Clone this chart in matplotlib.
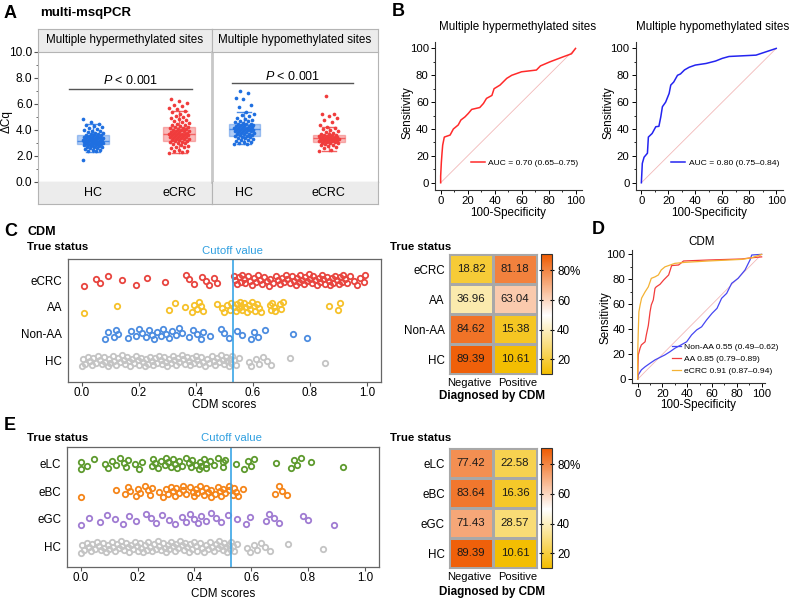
import numpy as np
import matplotlib
matplotlib.use("Agg")
import matplotlib.pyplot as plt
from matplotlib.colors import LinearSegmentedColormap

plt.rcParams['font.family'] = ['Liberation Sans', 'DejaVu Sans']
plt.rcParams['mathtext.fontset'] = 'custom'
plt.rcParams['mathtext.it'] = 'Liberation Sans:italic'
plt.rcParams['mathtext.rm'] = 'Liberation Sans'

# ---------------- data ----------------
# A: delta Cq per group (points) and box stats (whislo, q1, med, q3, whishi)
hyper_hc = [1.72, 2.38, 2.42, 2.48, 2.5, 2.55, 2.6, 2.62, 2.67, 2.7, 2.73, 2.75, 2.8, 2.81, 2.85, 2.86,
            2.9, 2.91, 2.93, 2.95, 2.96, 3.0, 3.01, 3.03, 3.05, 3.06, 3.08, 3.1, 3.12, 3.13, 3.15, 3.17,
            3.18, 3.2, 3.21, 3.24, 3.25, 3.27, 3.3, 3.32, 3.35, 3.36, 3.38, 3.4, 3.43, 3.45, 3.48, 3.5,
            3.53, 3.56, 3.58, 3.6, 3.64, 3.68, 3.72, 3.77, 3.8, 3.86, 3.9, 3.96, 4.02, 4.1, 4.18, 4.26,
            4.32, 4.4, 4.48, 4.6, 4.82]
hyper_ecrc = [2.25, 2.3, 2.36, 2.42, 2.5, 2.58, 2.66, 2.72, 2.8, 2.86, 2.92, 2.98, 3.02, 3.06, 3.1,
              3.14, 3.18, 3.2, 3.24, 3.28, 3.3, 3.33, 3.37, 3.4, 3.43, 3.46, 3.5, 3.52, 3.55, 3.58, 3.6,
              3.63, 3.66, 3.68, 3.7, 3.73, 3.76, 3.8, 3.83, 3.86, 3.9, 3.93, 3.96, 4.0, 4.03, 4.07, 4.1,
              4.14, 4.18, 4.2, 4.25, 4.3, 4.36, 4.42, 4.5, 4.56, 4.62, 4.7, 4.78, 4.85, 4.92, 5.0, 5.08,
              5.15, 5.25, 5.35, 5.45, 5.6, 5.72, 5.85, 5.95, 6.1, 6.2, 6.4]
hypo_hc = [2.92, 2.96, 3.0, 3.05, 3.1, 3.15, 3.2, 3.25, 3.3, 3.35, 3.4, 3.45, 3.5, 3.53, 3.56, 3.6,
           3.63, 3.66, 3.7, 3.73, 3.76, 3.8, 3.83, 3.86, 3.9, 3.92, 3.95, 3.98, 4.0, 4.03, 4.06, 4.08,
           4.1, 4.13, 4.16, 4.19, 4.22, 4.25, 4.28, 4.31, 4.34, 4.37, 4.4, 4.43, 4.46, 4.5, 4.55, 4.6,
           4.66, 4.72, 4.8, 4.88, 4.95, 5.05, 5.15, 5.25, 5.35, 5.8, 5.9, 6.35, 6.45, 6.88, 7.0]
hypo_ecrc = [2.42, 2.5, 2.6, 2.68, 2.75, 2.82, 2.88, 2.93, 2.97, 3.0, 3.03, 3.06, 3.09, 3.12, 3.14,
             3.16, 3.18, 3.2, 3.22, 3.24, 3.26, 3.28, 3.3, 3.32, 3.34, 3.36, 3.38, 3.4, 3.42, 3.44, 3.46,
             3.48, 3.5, 3.52, 3.55, 3.58, 3.6, 3.63, 3.67, 3.72, 3.78, 3.85, 3.92, 4.0, 4.08, 4.15, 4.2,
             4.42, 4.6, 4.8, 4.95, 5.1, 5.2, 5.25, 6.6]
box_hyper = [(2.33, 2.92, 3.18, 3.6, 4.5), (2.25, 3.18, 3.67, 4.2, 5.46)]
box_hypo = [(2.92, 3.56, 4.08, 4.46, 5.36), (2.4, 3.1, 3.36, 3.6, 4.2)]

# B: ROC curves (100-specificity, sensitivity)
roc_hyper_x = [0, 0, 0.5, 1, 1.5, 2.7, 7, 9.4, 13, 15, 18, 20.5, 23, 29, 31.7, 34, 38, 39.6, 44, 49,
               52.7, 60, 71, 74, 81, 91, 97, 100]
roc_hyper_y = [0, 5, 15, 22, 28, 34, 35.5, 40, 43, 46.7, 49, 51.6, 54.6, 56, 59, 62.8, 65, 70, 72.7,
               77.7, 80, 82.6, 83.9, 87, 90, 93.8, 96, 100]
roc_hypo_x = [0, 0.7, 2, 4.5, 5.2, 8, 10.7, 13, 14.4, 15.6, 18, 20.6, 21.8, 24, 26.8, 29, 32, 35.5, 40,
              48, 55, 60, 65, 85, 92.5, 100]
roc_hypo_y = [0, 14.4, 19, 22, 34, 36.7, 41.7, 42, 49, 56.6, 60, 66.5, 72.7, 75, 80, 81, 84, 86, 87.6,
              88.8, 90.6, 92.6, 94, 95, 97.5, 100]

# C: CDM scores per true status
cdm_ecrc = [0.006, 0.049, 0.064, 0.09, 0.139, 0.189, 0.23, 0.29, 0.364, 0.375, 0.395, 0.42, 0.435,
            0.445, 0.462, 0.475,
            0.535, 0.538, 0.545, 0.55, 0.557, 0.563, 0.57, 0.574, 0.582, 0.59, 0.597, 0.603, 0.61, 0.617,
            0.625, 0.632, 0.64, 0.65, 0.656, 0.662, 0.67, 0.68, 0.688, 0.697, 0.703, 0.709, 0.715, 0.72,
            0.73, 0.738, 0.745, 0.75, 0.756, 0.761, 0.767, 0.773, 0.778, 0.784, 0.79, 0.796, 0.802, 0.808,
            0.813, 0.819, 0.825, 0.831, 0.837, 0.843, 0.848, 0.854, 0.86, 0.866, 0.872, 0.878, 0.883,
            0.889, 0.895, 0.901, 0.907, 0.912, 0.918, 0.925, 0.93, 0.942, 0.954, 0.965, 0.977, 0.989, 0.995]
cdm_aa = [0.008, 0.123, 0.306, 0.326, 0.362, 0.388, 0.395, 0.405, 0.411, 0.418, 0.425, 0.473, 0.49,
          0.5, 0.51, 0.52, 0.525,
          0.535, 0.54, 0.545, 0.551, 0.555, 0.559, 0.563, 0.568, 0.574, 0.58, 0.585, 0.589, 0.597, 0.603,
          0.609, 0.615, 0.622, 0.627, 0.659, 0.664, 0.667, 0.674, 0.679, 0.694, 0.7, 0.706, 0.868, 0.9, 0.906]
cdm_nonaa = [0.081, 0.09, 0.111, 0.118, 0.125, 0.162, 0.174, 0.189, 0.2, 0.212, 0.224, 0.235, 0.247,
             0.253, 0.265, 0.277, 0.286, 0.294, 0.306, 0.317, 0.329, 0.341, 0.352, 0.376, 0.391, 0.405,
             0.417, 0.426, 0.449, 0.489, 0.5, 0.516, 0.545, 0.562, 0.594, 0.603, 0.617, 0.644, 0.741, 0.79]
cdm_hc = [0.0, 0.004, 0.012, 0.02, 0.027, 0.035, 0.04, 0.048, 0.055, 0.063, 0.07, 0.077, 0.082, 0.09,
          0.096, 0.1, 0.108, 0.113, 0.12, 0.127, 0.133, 0.14, 0.146, 0.152, 0.158, 0.165, 0.17, 0.177,
          0.183, 0.19, 0.196, 0.2, 0.207, 0.213, 0.22, 0.226, 0.232, 0.238, 0.245, 0.25, 0.257, 0.263,
          0.27, 0.276, 0.282, 0.288, 0.295, 0.3, 0.306, 0.312, 0.318, 0.323, 0.33, 0.336, 0.342, 0.35,
          0.356, 0.362, 0.368, 0.375, 0.38, 0.386, 0.393, 0.4, 0.405, 0.41, 0.418, 0.425, 0.432, 0.44,
          0.447, 0.455, 0.462, 0.468, 0.475, 0.482, 0.488, 0.495, 0.5, 0.505, 0.51, 0.515, 0.52, 0.525,
          0.528, 0.535, 0.54, 0.55, 0.585, 0.595, 0.61, 0.62, 0.635, 0.65, 0.665, 0.729, 0.854]
status_c = ["eCRC", "AA", "Non-AA", "HC"]
pct_c = [[18.82, 81.18], [36.96, 63.04], [84.62, 15.38], [89.39, 10.61]]

# D: ROC per group
roc_nonaa_x = [0, 0.5, 3, 6, 10, 14, 19, 22, 26, 30, 35, 39.5, 43.5, 47.6, 51.6, 55.6, 60, 64, 67.7,
               71.8, 75.8, 81, 86.6, 90.6, 92, 100]
roc_nonaa_y = [0, 3.5, 7.5, 10, 12.8, 15.5, 18, 19.5, 22, 24.8, 27.5, 30, 35.5, 39.5, 42, 47.5, 52.8,
               56.8, 64.8, 68.8, 76.8, 80.8, 87.5, 95.5, 99.5, 100]
roc_aa_x = [0, 0.5, 2, 3, 6, 7, 8.6, 10, 11, 12.6, 14, 15, 18, 21, 25, 27.4, 33, 37, 57, 84, 92, 100]
roc_aa_y = [0, 19.5, 25, 27.5, 30, 35.5, 43, 54, 59.5, 63.5, 72.8, 74, 76, 79.5, 83.5, 91, 91.5, 94.7,
            95.5, 96.3, 97.3, 98]
roc_ecrc_x = [0, 0, 0.5, 1, 2, 3.2, 6, 8.6, 11, 14, 16.7, 19, 22, 30, 38, 57, 84, 92, 100]
roc_ecrc_y = [0, 19.5, 38, 54, 59.5, 65, 70, 74, 80.8, 82, 83.5, 87.5, 90, 92.8, 93.6, 94.7, 96, 97.3, 100]

# E: CDM scores per cancer type
cdm_elc = [0.0, 0.002, 0.022, 0.047, 0.084, 0.096, 0.108, 0.122, 0.137, 0.151, 0.16, 0.166, 0.192,
           0.205, 0.216, 0.251, 0.255, 0.26, 0.271, 0.283, 0.295, 0.3, 0.306, 0.318, 0.324, 0.333, 0.34,
           0.345, 0.357, 0.371, 0.38, 0.388, 0.39, 0.406, 0.415, 0.42, 0.423, 0.432, 0.44, 0.441, 0.455,
           0.47, 0.482, 0.499, 0.5, 0.509, 0.546, 0.575, 0.587, 0.599, 0.61, 0.686, 0.739, 0.75, 0.762,
           0.777, 0.809, 0.924]
cdm_ebc = [0.0, 0.125, 0.154, 0.166, 0.174, 0.195, 0.2, 0.207, 0.227, 0.236, 0.244, 0.25, 0.275, 0.289,
           0.3, 0.306, 0.318, 0.324, 0.33, 0.336, 0.347, 0.359, 0.36, 0.371, 0.383, 0.394, 0.4, 0.406,
           0.41, 0.418, 0.427, 0.435, 0.44, 0.447, 0.459, 0.46, 0.471, 0.482, 0.49, 0.494, 0.5, 0.509,
           0.52, 0.521, 0.535, 0.54, 0.546, 0.555, 0.572, 0.684, 0.698, 0.71, 0.727]
cdm_egc = [0.0, 0.029, 0.067, 0.092, 0.119, 0.15, 0.171, 0.195, 0.23, 0.248, 0.265, 0.286, 0.312, 0.33,
           0.357, 0.371, 0.385, 0.4, 0.412, 0.423, 0.441, 0.459, 0.476, 0.494, 0.517, 0.549, 0.581, 0.595,
           0.651, 0.663, 0.681, 0.699, 0.782, 0.801, 0.891]
status_e = ["eLC", "eBC", "eGC", "HC"]
pct_e = [[77.42, 22.58], [83.64, 16.36], [71.43, 28.57], [89.39, 10.61]]

cutoff = 0.53

# ---------------- figure ----------------
W, H = 791, 601
fig = plt.figure(figsize=(W / 100, H / 100), dpi=100)


def rect(x0, y0, x1, y1):
    return [x0 / W, 1 - y1 / H, (x1 - x0) / W, (y1 - y0) / H]


def ftext(x, y, s, **kw):
    kw.setdefault('va', 'center')
    fig.text(x / W, 1 - y / H, s, **kw)


def spread(n, width):
    return np.array([((i * 0.618034) % 1.0 - 0.5) * width for i in range(n)])


blue_a, red_a = '#1f6fe0', '#f03c3c'
gray_frame = '#b4b4b4'

# ---------- panel A ----------
ftext(4, 13, 'A', fontsize=13, fontweight='bold')
ftext(40, 13, 'multi-msqPCR', fontsize=9.5, fontweight='bold')

panels_a = [
    (rect(38, 52, 212, 182), (0.36, 2.38), [hyper_hc, hyper_ecrc], box_hyper,
     'Multiple hypermethylated sites', ([0.72, 2.15], 7.15, 1.435, 7.77)),
    (rect(212, 52, 378, 182), (0.62, 2.58), [hypo_hc, hypo_ecrc], box_hypo,
     'Multiple hypomethylated sites', ([0.855, 2.29], 7.59, 1.57, 8.15)),
]
for k, (pos, xl, pts, stats, head, pline) in enumerate(panels_a):
    ax = fig.add_axes(pos)
    ax.set_xlim(*xl)
    ax.set_ylim(0, 10)
    bstats = [dict(whislo=s[0], q1=s[1], med=s[2], q3=s[3], whishi=s[4], fliers=[]) for s in stats]
    bp = ax.bxp(bstats, positions=[1, 2], widths=0.37, patch_artist=True, showfliers=False,
                capwidths=0.17, manage_ticks=False)
    for j, c in enumerate([blue_a, red_a]):
        bp['boxes'][j].set(facecolor=c, alpha=0.35, edgecolor=c, linewidth=1)
        bp['medians'][j].set(color=c, linewidth=1, alpha=0.7)
        for w in bp['whiskers'][2 * j:2 * j + 2] + bp['caps'][2 * j:2 * j + 2]:
            w.set(color=c, linewidth=1, alpha=0.8)
        vals = pts[j]
        ax.scatter(j + 1 + spread(len(vals), 0.24), vals, s=7, color=c, linewidths=0, zorder=3)
    xs, yl, tx, ty = pline
    ax.plot(xs, [yl, yl], color='#555555', lw=1)
    ax.text(tx, ty, '$P$ < 0.001', ha='center', va='center', fontsize=9)
    ax.set_xticks([])
    for s in ['top', 'right']:
        ax.spines[s].set_visible(False)
    ax.spines['bottom'].set_color('#707070')
    if k == 0:
        ax.spines['left'].set_color(gray_frame)
        ax.set_yticks([0, 2, 4, 6, 8, 10])
        ax.set_yticklabels(['0.0', '2.0', '4.0', '6.0', '8.0', '10.0'])
        ax.set_yticks([1, 3, 5, 7, 9], minor=True)
        ax.tick_params(axis='y', labelsize=8.6, length=3, color='#555555', pad=1)
        ax.tick_params(axis='y', which='minor', length=1.5, color='#555555')
    else:
        ax.spines['left'].set_color('#c8c8c8')
        ax.spines['left'].set_linewidth(2)
        ax.spines['right'].set_visible(True)
        ax.spines['right'].set_color(gray_frame)
        ax.set_yticks([])
    # header strip
    x0 = 38 if k == 0 else 212
    x1 = 212 if k == 0 else 378
    hax = fig.add_axes(rect(x0, 29, x1, 52))
    hax.set_facecolor('#ececec')
    hax.set_xticks([])
    hax.set_yticks([])
    for s in hax.spines.values():
        s.set_color(gray_frame)
    hax.text(0.5, 0.5, head, ha='center', va='center', fontsize=8.4, transform=hax.transAxes)
    # footer strip
    fax = fig.add_axes(rect(x0, 182, x1, 204))
    fax.set_facecolor('#ececec')
    fax.set_xlim(*xl)
    fax.set_xticks([])
    fax.set_yticks([])
    for s in fax.spines.values():
        s.set_color(gray_frame)
    fax.spines['top'].set_visible(False)
    for j, g in enumerate(['HC', 'eCRC']):
        fax.text(j + 1, 0.5, g, ha='center', va='center', fontsize=9,
                 transform=fax.get_xaxis_transform())
ftext(7, 122, 'ΔCq', rotation=90, ha='center', fontsize=8.5)


# ---------- ROC helper ----------
def roc_axes(pos, xl, yl):
    ax = fig.add_axes(pos)
    ax.set_xlim(*xl)
    ax.set_ylim(*yl)
    ax.plot([0, 100], [0, 100], color='#f2b8b8', lw=0.6)
    for s in ['top', 'right']:
        ax.spines[s].set_visible(False)
    for s in ['left', 'bottom']:
        ax.spines[s].set_color('#333333')
        ax.spines[s].set_linewidth(0.8)
    ax.set_xticks(range(0, 101, 20))
    ax.set_yticks(range(0, 101, 20))
    ax.set_xticks(range(10, 100, 20), minor=True)
    ax.set_yticks(range(10, 100, 20), minor=True)
    ax.tick_params(labelsize=8.2, length=3, width=0.7, pad=1.5)
    ax.tick_params(which='minor', length=1.5, width=0.6)
    return ax


# ---------- panel B ----------
ftext(392, 12, 'B', fontsize=13, fontweight='bold')
b_specs = [
    (435, 518, 'Multiple hypermethylated sites', roc_hyper_x, roc_hyper_y, '#ff2a2a',
     'AUC = 0.70 (0.65–0.75)'),
    (635.7, 713, 'Multiple hypomethylated sites', roc_hypo_x, roc_hypo_y, '#2424f0',
     'AUC = 0.80 (0.75–0.84)'),
]
for x0, tx, title, rx, ry, c, lab in b_specs:
    ax = roc_axes(rect(x0, 41.7, x0 + 147, 190), (-4.2, 104.8), (-5.4, 105))
    ax.plot(rx, ry, color=c, lw=1.1, label=lab)
    ax.legend(loc='center right', bbox_to_anchor=(1.0, 0.185), frameon=False, fontsize=6.1,
              handlelength=1.7, handletextpad=0.4, borderaxespad=0)
    ftext(tx, 27, title, ha='center', fontsize=8.4)
    ftext(x0 + 73, 213, '100-Specificity', ha='center', fontsize=8.4)
    ftext(x0 - 27, 113, 'Sensitivity', rotation=90, ha='center', fontsize=8.4)


# ---------- strip helper ----------
def strip_axes(pos, ylim, groups, colors, labels, cut_y):
    ax = fig.add_axes(pos)
    ax.set_xlim(-0.05, 1.05)
    ax.set_ylim(*ylim)
    for row, (vals, c) in enumerate(zip(groups, colors)):
        yy = (3 - row) + spread(len(vals), 0.42)
        ax.plot(vals, yy, 'o', mfc='none', mec=c, mew=1.3, ms=3.9, ls='none')
    ax.axvline(cutoff, color='#3aa5e6', lw=1.2)
    ax.text(cutoff, cut_y, 'Cutoff value', color='#2f9fe0', ha='center', va='center', fontsize=8.2,
            transform=ax.get_xaxis_transform())
    ax.set_yticks([3, 2, 1, 0])
    ax.set_yticklabels(labels)
    ax.set_xticks([0, 0.2, 0.4, 0.6, 0.8, 1.0])
    ax.set_xticklabels(['0.0', '0.2', '0.4', '0.6', '0.8', '1.0'])
    ax.tick_params(axis='y', length=0, labelsize=8.4, pad=4)
    ax.tick_params(axis='x', length=3, labelsize=8.4, pad=1, color='#555555')
    for s in ax.spines.values():
        s.set_color('#666666')
        s.set_linewidth(0.9)
    return ax


cmap = LinearSegmentedColormap.from_list('yw_or', [(0, '#f3bd00'), (0.49, '#ffffff'), (1, '#ee5a00')])


def heat_axes(pos, cpos, vals, labels):
    ax = fig.add_axes(pos)
    arr = np.array(vals)
    mesh = ax.pcolormesh(np.arange(3), np.arange(5), arr, cmap=cmap, vmin=10, vmax=91,
                         edgecolors='#a8a8a8', linewidth=1)
    ax.set_xlim(0, 2)
    ax.set_ylim(4, 0)
    for i in range(arr.shape[0]):
        for j in range(arr.shape[1]):
            ax.text(j + 0.5, i + 0.5, f'{arr[i, j]:.2f}', ha='center', va='center', fontsize=8.2,
                    color='#1a1a1a')
    ax.set_xticks([0.45, 1.55])
    ax.set_xticklabels(['Negative', 'Positive'])
    ax.set_yticks([0.5, 1.5, 2.5, 3.5])
    ax.set_yticklabels(labels)
    ax.tick_params(axis='y', length=0, labelsize=8.4, pad=3)
    ax.tick_params(axis='x', length=0, labelsize=8, pad=3)
    for s in ax.spines.values():
        s.set_color('#a8a8a8')
    cax = fig.add_axes(cpos)
    cb = fig.colorbar(mesh, cax=cax, ticks=[20, 40, 60, 80])
    cb.ax.set_yticklabels(['20', '40', '60', '80%'])
    cb.ax.tick_params(labelsize=8.4, length=3, width=0.8, direction='inout', left=True, right=True, pad=2)
    cb.outline.set_edgecolor('#333333')
    cb.outline.set_linewidth(0.8)
    return ax


# ---------- panel C ----------
ftext(4, 232, 'C', fontsize=13, fontweight='bold')
ftext(28, 232, 'CDM', fontsize=9, fontweight='bold')
ftext(27, 247, 'True status', fontsize=8.2, fontweight='bold')
strip_axes(rect(67.7, 259.3, 381, 381.7), (-0.78, 3.77), [cdm_ecrc, cdm_aa, cdm_nonaa, cdm_hc],
           ['#e8453f', '#f6c12a', '#4d8de0', '#c4c4c4'], status_c, 1.068)
ftext(224, 405, 'CDM scores', ha='center', fontsize=8.4)

ftext(390, 247, 'True status', fontsize=8.2, fontweight='bold')
heat_axes(rect(449, 254.3, 537, 374), rect(541, 254, 552.3, 374.3), pct_c, status_c)
ftext(492, 396, 'Diagnosed by CDM', ha='center', fontsize=8.4, fontweight='bold')

# ---------- panel D ----------
ftext(592, 230, 'D', fontsize=13, fontweight='bold')
axd = roc_axes(rect(631.7, 250, 765, 383), (-4.8, 102.7), (-3, 103.5))
axd.plot(roc_nonaa_x, roc_nonaa_y, color='#4646f2', lw=0.9, label='Non-AA 0.55 (0.49–0.62)')
axd.plot(roc_aa_x, roc_aa_y, color='#f23c3c', lw=0.9, label='AA 0.85 (0.79–0.89)')
axd.plot(roc_ecrc_x, roc_ecrc_y, color='#f4b234', lw=0.9, label='eCRC 0.91 (0.87–0.94)')
axd.legend(loc='center right', bbox_to_anchor=(1.13, 0.18), frameon=False, fontsize=6.1,
           handlelength=1.1, handletextpad=0.4, labelspacing=0.5, borderaxespad=0)
ftext(702, 242, 'CDM', ha='center', fontsize=8.4)
ftext(698, 405, '100-Specificity', ha='center', fontsize=8.4)
ftext(605, 318, 'Sensitivity', rotation=90, ha='center', fontsize=8.4)

# ---------- panel E ----------
ftext(4, 425, 'E', fontsize=13, fontweight='bold')
ftext(27, 438, 'True status', fontsize=8.2, fontweight='bold')
strip_axes(rect(66.7, 446.7, 379, 566.7), (-0.72, 3.6), [cdm_elc, cdm_ebc, cdm_egc, cdm_hc],
           ['#5e9a2e', '#f5851a', '#a07cd2', '#c4c4c4'], status_e, 1.075)
ftext(223, 594, 'CDM scores', ha='center', fontsize=8.4)

ftext(390, 438, 'True status', fontsize=8.2, fontweight='bold')
heat_axes(rect(449, 448.3, 537, 568.3), rect(541, 448, 552.3, 568), pct_e, status_e)
ftext(492, 592, 'Diagnosed by CDM', ha='center', fontsize=8.4, fontweight='bold')

fig.savefig('out.png', dpi=100)
